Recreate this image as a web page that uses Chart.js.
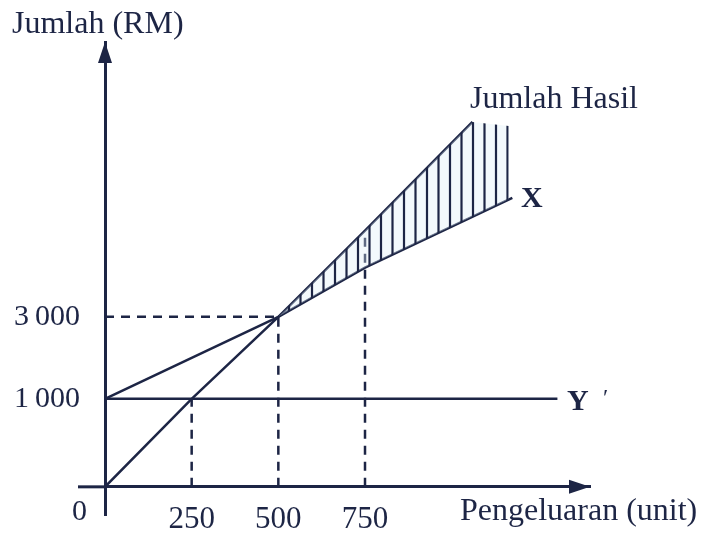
<!DOCTYPE html>
<html>
<head>
<meta charset="utf-8">
<script src="https://cdn.jsdelivr.net/npm/chart.js@4.4.1/dist/chart.umd.min.js"></script>
<style>
  html, body { margin: 0; background: #fff; }
</style>
</head>
<body>
<canvas id="carta" width="703" height="533"></canvas>
<script>
// nilai (paksi Y tidak mengikut skala: 0-1000 lebih renggang)
const unitHasil = [0, 250, 500, 750, 1060];
const jumlahHasil = [0, 1000, 3000, 5100, 7750];
const unitKos = [0, 500, 750, 1175];
const jumlahKos = [1000, 3000, 4200, 5900];
const unitY = [0, 1305];
const jumlahY = [1000, 1000];
const hujungLorek = [1165, 7650];   // tepi kanan kawasan berlorek
const tickX = [250, 500, 750];
const tickY = [1000, 3000];

const WARNA = '#1d2545';
const FON = '"Liberation Serif", "Times New Roman", serif';

// skala Y yang "patah": jalur 0-1000 lebih tinggi daripada jalur di atasnya
class SkalaPatah extends Chart.LinearScale {
  static id = 'patah';
  keVisual(v) {
    return v <= 1000 ? v * 2.146 : 2146 + (v - 1000);
  }
  dariVisual(t) {
    return t <= 2146 ? t / 2.146 : 1000 + (t - 2146);
  }
  getPixelForValue(v) {
    if (v === null || v === undefined || isNaN(v)) return NaN;
    const a = this.keVisual(this.min), b = this.keVisual(this.max);
    return this.getPixelForDecimal((this.keVisual(v) - a) / (b - a));
  }
  getValueForPixel(p) {
    const a = this.keVisual(this.min), b = this.keVisual(this.max);
    return this.dariVisual(a + this.getDecimalForPixel(p) * (b - a));
  }
}
Chart.register(SkalaPatah);

const titik = (xs, ys) => xs.map((x, i) => ({ x: x, y: ys[i] }));

// corak garis menegak untuk kawasan untung
function corakLorek() {
  const c = document.createElement('canvas');
  c.width = 23; c.height = 10;
  const g = c.getContext('2d');
  g.fillStyle = 'rgba(222, 238, 247, 0.35)';
  g.fillRect(0, 0, 23, 10);
  g.strokeStyle = WARNA;
  g.lineWidth = 2.2;
  [1.5, 13].forEach(x => {
    g.beginPath(); g.moveTo(x, 0); g.lineTo(x, 10); g.stroke();
  });
  return g.createPattern(c, 'repeat');
}

const atasLorek = titik(unitHasil.slice(2), jumlahHasil.slice(2)).concat([{ x: hujungLorek[0], y: hujungLorek[1] }]);

const garis = (data, extra) => Object.assign({
  data: data,
  showLine: true,
  borderColor: WARNA,
  borderWidth: 2.5,
  pointRadius: 0,
  fill: false,
  tension: 0
}, extra || {});

const putus = { borderDash: [9, 7], borderWidth: 2.5 };

const datasets = [
  garis(atasLorek, { borderWidth: 0, fill: { target: 1, above: corakLorek(), below: 'rgba(0,0,0,0)' } }),
  garis(titik(unitKos, jumlahKos)),
  garis(titik(unitHasil, jumlahHasil)),
  garis(titik(unitY, jumlahY)),
  garis([{ x: tickX[0], y: 0 }, { x: tickX[0], y: jumlahHasil[1] }], putus),
  garis([{ x: tickX[1], y: 0 }, { x: tickX[1], y: jumlahHasil[2] }], putus),
  garis([{ x: 0, y: tickY[1] }, { x: tickX[1], y: tickY[1] }], putus),
  garis([{ x: tickX[2], y: 0 }, { x: tickX[2], y: jumlahHasil[3] }], putus)
];

const labelCarta = {
  id: 'labelCarta',
  afterDraw(chart) {
    const ctx = chart.ctx, a = chart.chartArea;
    const sx = chart.scales.x, sy = chart.scales.y;
    const x0 = sx.getPixelForValue(0), y0 = sy.getPixelForValue(0);
    ctx.save();
    // paksi X sedikit melepasi paksi Y ke kiri
    ctx.strokeStyle = WARNA;
    ctx.lineWidth = 3;
    ctx.beginPath(); ctx.moveTo(x0 - 27, y0); ctx.lineTo(x0, y0); ctx.stroke();
    ctx.fillStyle = WARNA;
    // anak panah paksi
    ctx.beginPath();
    ctx.moveTo(x0, a.top); ctx.lineTo(x0 - 7, a.top + 21); ctx.lineTo(x0 + 7, a.top + 21);
    ctx.closePath(); ctx.fill();
    ctx.beginPath();
    ctx.moveTo(a.right, y0); ctx.lineTo(a.right - 21, y0 - 7); ctx.lineTo(a.right - 21, y0 + 7);
    ctx.closePath(); ctx.fill();

    ctx.textBaseline = 'alphabetic';
    ctx.textAlign = 'left';
    ctx.font = '32px ' + FON;
    ctx.fillText('Jumlah (RM)', 12, 33);
    ctx.fillText('Jumlah Hasil', 470, 108);
    ctx.fillText('Pengeluaran (unit)', 460, 520);
    ctx.font = '30px ' + FON;
    ctx.fillText('0', 72, 520);
    ctx.font = 'bold 30px ' + FON;
    ctx.fillText('X', 521, 207);
    ctx.fillText('Y', 567, 410);
    ctx.font = '24px ' + FON;
    ctx.fillText('\u2032', 603, 405);
    ctx.restore();
  }
};

new Chart(document.getElementById('carta'), {
  type: 'scatter',
  data: { datasets: datasets },
  options: {
    responsive: false,
    animation: false,
    events: [],
    layout: { padding: { left: 13, right: 113, top: 42, bottom: 18 } },
    plugins: { legend: { display: false }, tooltip: { enabled: false } },
    scales: {
      x: {
        type: 'linear',
        min: 0,
        max: 1399,
        position: { y: 0 },
        grid: { display: false, drawTicks: false },
        border: { display: true, color: WARNA, width: 3 },
        afterBuildTicks: s => { s.ticks = tickX.map(v => ({ value: v })); },
        ticks: {
          padding: 14,
          color: WARNA,
          font: { family: FON, size: 31 },
          callback: v => String(v)
        }
      },
      y: {
        type: 'patah',
        min: -320,
        max: 9700,
        position: 'left',
        grid: { display: false, drawTicks: true, tickLength: 25 },
        border: { display: true, color: WARNA, width: 3 },
        afterBuildTicks: s => { s.ticks = tickY.map(v => ({ value: v })); },
        afterFit: s => { s.width = 92; },
        ticks: {
          padding: 0,
          color: WARNA,
          font: { family: FON, size: 30 },
          callback: v => String(v).replace(/\B(?=(\d{3})+$)/g, '\u2009')
        }
      }
    }
  },
  plugins: [labelCarta]
});
</script>
</body>
</html>
